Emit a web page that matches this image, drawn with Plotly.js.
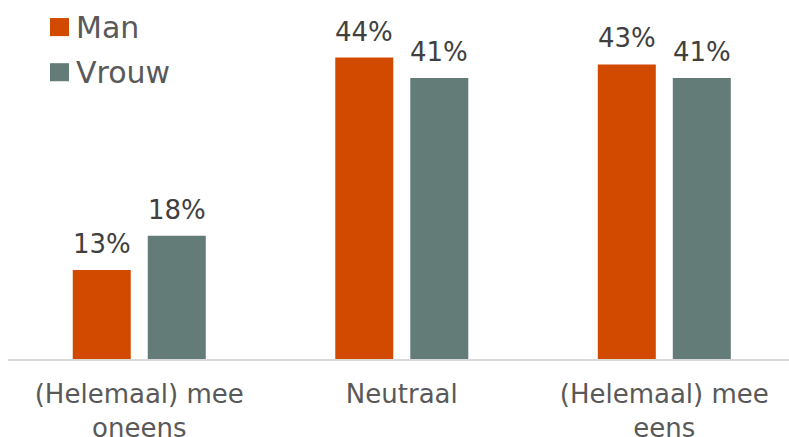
<!DOCTYPE html>
<html><head><meta charset="utf-8">
<script src="https://cdn.plot.ly/plotly-3.0.1.min.js"></script>
<style>html,body{margin:0;padding:0;background:#fff}#chart{width:789px;height:437px}</style>
</head><body><div id="chart"></div>
<script>
const categories = ["(Helemaal) mee<br>oneens", "Neutraal", "(Helemaal) mee<br>eens"];
const seriesNames = ["Man", "Vrouw"];
const manValues = [13, 44, 43];
const vrouwValues = [18, 41, 41];
const colors = ["#D24A00", "#647C78"];
const font = "Verdana, 'DejaVu Sans', sans-serif";
const series = [manValues, vrouwValues];

const data = series.map((vals, i) => ({
  type: "bar", name: seriesNames[i], x: categories, y: vals,
  marker: {color: colors[i]}, showlegend: false, hoverinfo: "none"
}));

// value labels, placed on the series' bar positions
const annotations = [];
series.forEach((vals, i) => {
  vals.forEach((v, j) => {
    annotations.push({
      x: categories[j], y: v, xref: "x", yref: "y",
      xshift: (i === 0 ? -37.5 : 37.5), yshift: 9,
      yanchor: "bottom", xanchor: "center", showarrow: false,
      text: v + "%", font: {family: font, size: 26, color: "#404040"}
    });
  });
});
// legend
const legendRows = [[0.8994, 0.9497, 0.9246], [0.7737, 0.8240, 0.7989]];
const shapes = [];
seriesNames.forEach((n, i) => {
  const r = legendRows[i];
  shapes.push({type: "rect", xref: "paper", yref: "paper", x0: 0.0538, x1: 0.0781, y0: r[0], y1: r[1],
    fillcolor: colors[i], line: {width: 0}});
  annotations.push({xref: "paper", yref: "paper", x: 0.0845, y: r[2], xanchor: "left", yanchor: "middle",
    showarrow: false, text: n, font: {family: font, size: 30, color: "#595959"}});
});

const layout = {
  width: 789, height: 437,
  margin: {l: 8, r: 0, t: 0, b: 78},
  paper_bgcolor: "#fff", plot_bgcolor: "#fff",
  barmode: "group", bargap: 0.4286, bargroupgap: 0.2267,
  font: {family: font, color: "#595959"},
  xaxis: {range: [-0.5, 2.475], showline: true, linecolor: "#D9D9D9", linewidth: 1.5,
    ticks: "", ticklabelstandoff: 11, tickfont: {family: font, size: 26, color: "#595959"}},
  yaxis: {range: [0, 52.4], visible: false, showgrid: false, zeroline: false},
  showlegend: false,
  annotations: annotations, shapes: shapes
};
Plotly.newPlot("chart", data, layout, {displayModeBar: false, staticPlot: true});
</script></body></html>
